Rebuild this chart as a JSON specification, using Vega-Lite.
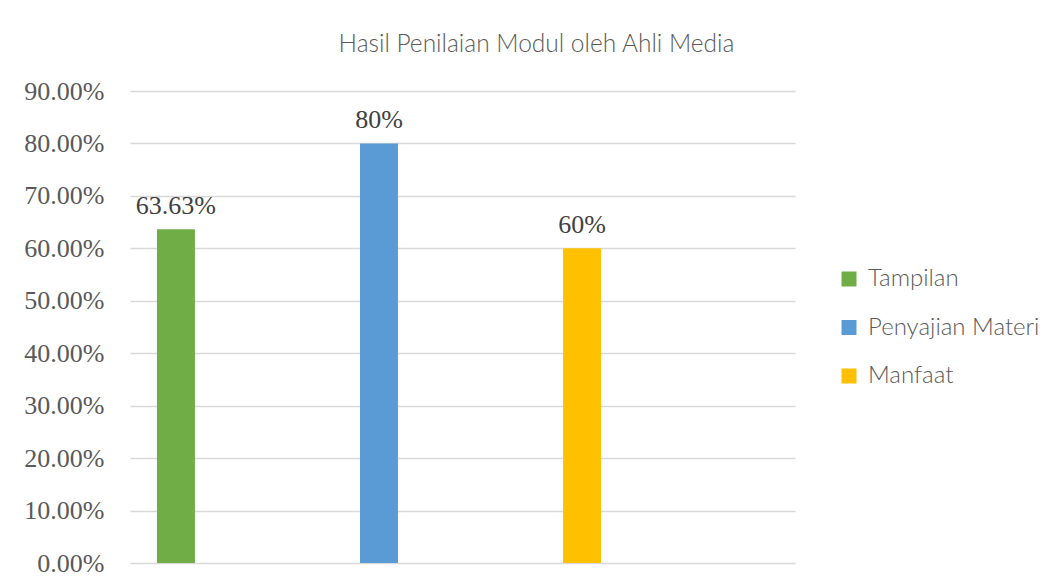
{
  "$schema": "https://vega.github.io/schema/vega-lite/v6.json",
  "width": 665,
  "height": 472,
  "autosize": {"type": "none"},
  "padding": {"left": 130, "top": 91, "right": 264, "bottom": 24},
  "background": "white",
  "title": {
    "text": "Hasil Penilaian Modul oleh Ahli Media",
    "font": "Lato",
    "fontWeight": 300,
    "fontSize": 24.5,
    "color": "#595959",
    "anchor": "middle",
    "dx": 74,
    "offset": 21
  },
  "data": {
    "values": [
      {"aspek": "Tampilan", "nilai": 0.6363},
      {"aspek": "Penyajian Materi", "nilai": 0.8},
      {"aspek": "Manfaat", "nilai": 0.6}
    ]
  },
  "encoding": {
    "x": {
      "field": "aspek",
      "type": "nominal",
      "sort": null,
      "axis": null,
      "scale": {"paddingInner": 0.813, "paddingOuter": 0.544, "align": 0.122}
    },
    "y": {
      "field": "nilai",
      "type": "quantitative",
      "scale": {"domain": [0, 0.9], "nice": false},
      "axis": {
        "format": ".2%",
        "values": [0, 0.1, 0.2, 0.3, 0.4, 0.5, 0.6, 0.7, 0.8, 0.9],
        "domain": false,
        "ticks": false,
        "labelFont": "Liberation Serif",
        "labelFontSize": 26,
        "labelColor": "#595959",
        "labelPadding": 26,
        "gridColor": "#d9d9d9",
        "gridWidth": 1.3,
        "title": null
      }
    }
  },
  "layer": [
    {
      "mark": {"type": "bar"},
      "encoding": {
        "color": {
          "field": "aspek",
          "type": "nominal",
          "sort": null,
          "scale": {"domain": ["Tampilan", "Penyajian Materi", "Manfaat"], "range": ["#70ad47", "#5b9bd5", "#ffc000"]},
          "legend": {
            "title": null,
            "orient": "none",
            "legendX": 707,
            "legendY": 176,
            "symbolType": "square",
            "symbolSize": 225,
            "symbolStrokeWidth": 0,
            "labelFont": "Lato",
            "labelFontWeight": 300,
            "labelFontSize": 24,
            "labelColor": "#595959",
            "labelLimit": 400,
            "rowPadding": 24.5,
            "labelOffset": 7
          }
        }
      }
    },
    {
      "mark": {"type": "text", "baseline": "bottom", "dy": -10, "font": "Liberation Serif", "fontSize": 26, "color": "#404040"},
      "encoding": {
        "text": {"field": "nilai", "type": "quantitative", "format": ".2~%"}
      }
    }
  ],
  "config": {"view": {"stroke": null}}
}
